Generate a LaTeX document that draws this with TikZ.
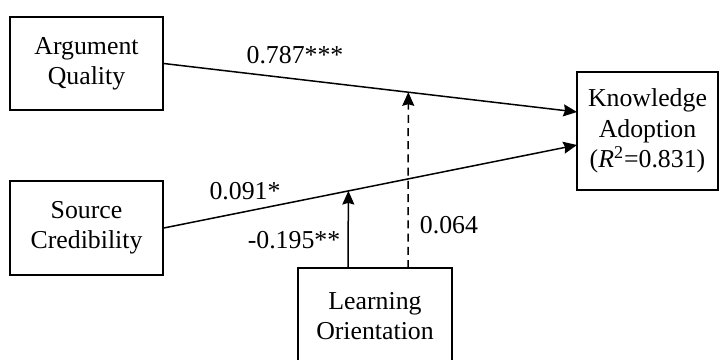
\documentclass[tikz,border=0pt]{standalone}
\usepackage{fontspec}
\setmainfont{Liberation Serif}
\usetikzlibrary{arrows.meta,calc}
\begin{document}
\begin{tikzpicture}[x=0.5pt,y=-0.5pt,
  font=\fontsize{12.9}{15.2}\selectfont,
  boxnode/.style={draw,line width=0.75pt,align=center,inner sep=0pt},
  path/.style={line width=0.75pt,-{Stealth[length=6.8pt,width=6pt,inset=0.8pt]}},
  lbl/.style={inner sep=0pt,anchor=center}]
\useasboundingbox (0,0) rectangle (720,360);
\clip (0,0) rectangle (720,360);
\node[boxnode,minimum width=76.5pt,minimum height=46.5pt] (AQ) at (86.5,63.5) {Argument\\Quality};
\node[boxnode,minimum width=76.5pt,minimum height=47pt] (SC) at (86.5,228) {Source\\Credibility};
\node[boxnode,minimum width=70.5pt,minimum height=59pt] (KA) at (647.5,131) {Knowledge\\Adoption\\(\textit{R}\textsuperscript{2}=0.831)};
\node[boxnode,minimum width=77pt,minimum height=52pt] (LO) at (375,320) {};
\node[lbl,align=center] (LOt) at (375,316) {Learning\\Orientation};
\coordinate (k1) at (577,112);
\coordinate (k2) at (577,145);
\draw[path] (AQ.east) -- (k1);
\draw[path] (SC.east) -- (k2);
\coordinate (m1) at ($(SC.east)!{185/414}!(k2)$);
\coordinate (m2) at ($(AQ.east)!{245/414}!(k1)$);
\coordinate (b1) at (348,268);
\coordinate (b2) at (408,268);
\draw[path] (b1) -- (m1);
\draw[path,dash pattern=on 4pt off 2.6pt] (b2) -- (m2);
\node[lbl] (l1) at (295,55) {0.787***};
\node[lbl] (l2) at (245,191) {0.091*};
\node[lbl] (l3) at (294,240) {-0.195**};
\node[lbl] (l4) at (449,225) {0.064};
\end{tikzpicture}
\end{document}
